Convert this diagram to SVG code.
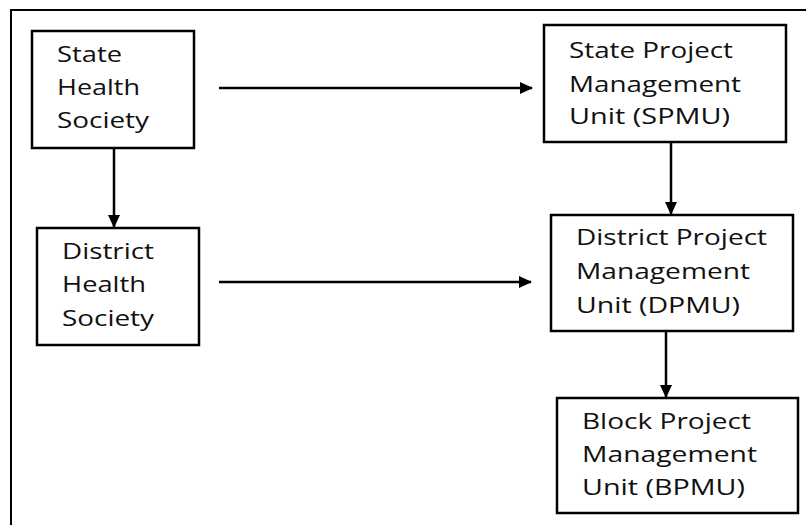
<svg xmlns="http://www.w3.org/2000/svg" width="806" height="525" viewBox="0 0 806 525">
<defs>
<marker id="ah" markerWidth="14" markerHeight="14" refX="12" refY="7" orient="auto" markerUnits="userSpaceOnUse">
<path d="M0,1 L13,7 L0,13 Z" fill="#000"/>
</marker>
<style>
.box{fill:#fff;stroke:#000;stroke-width:2.5}
.t{font-family:"Open Sans","Liberation Sans",sans-serif;font-size:21px;fill:#111}
.c{stroke:#000;stroke-width:2.5;fill:none;marker-end:url(#ah)}
</style>
</defs>
<rect x="0" y="0" width="806" height="525" fill="#fff"/>
<rect x="11" y="10" width="830" height="560" fill="none" stroke="#000" stroke-width="2"/>
<g id="connectors">
<line class="c" x1="219" y1="88" x2="532" y2="88"/>
<line class="c" x1="114" y1="148" x2="114" y2="227"/>
<line class="c" x1="671" y1="142" x2="671" y2="214"/>
<line class="c" x1="219" y1="282" x2="531" y2="282"/>
<line class="c" x1="666" y1="331" x2="666" y2="397"/>
</g>
<g id="shs">
<rect class="box" x="32" y="31" width="162" height="117"/>
<text class="t" x="57" y="62" textLength="65" lengthAdjust="spacingAndGlyphs">State</text>
<text class="t" x="57" y="95" textLength="83" lengthAdjust="spacingAndGlyphs">Health</text>
<text class="t" x="57" y="128" textLength="92" lengthAdjust="spacingAndGlyphs">Society</text>
</g>
<g id="spmu">
<rect class="box" x="544" y="25" width="242" height="117"/>
<text class="t" x="569" y="58" textLength="164" lengthAdjust="spacingAndGlyphs">State Project</text>
<text class="t" x="569" y="92" textLength="172" lengthAdjust="spacingAndGlyphs">Management</text>
<text class="t" x="569" y="124" textLength="161" lengthAdjust="spacingAndGlyphs">Unit (SPMU)</text>
</g>
<g id="dhs">
<rect class="box" x="37" y="228" width="162" height="117"/>
<text class="t" x="62" y="259" textLength="92" lengthAdjust="spacingAndGlyphs">District</text>
<text class="t" x="62" y="292" textLength="84" lengthAdjust="spacingAndGlyphs">Health</text>
<text class="t" x="62" y="326" textLength="92" lengthAdjust="spacingAndGlyphs">Society</text>
</g>
<g id="dpmu">
<rect class="box" x="551" y="215" width="242" height="116"/>
<text class="t" x="576" y="245" textLength="191" lengthAdjust="spacingAndGlyphs">District Project</text>
<text class="t" x="576" y="279" textLength="174" lengthAdjust="spacingAndGlyphs">Management</text>
<text class="t" x="576" y="313" textLength="164" lengthAdjust="spacingAndGlyphs">Unit (DPMU)</text>
</g>
<g id="bpmu">
<rect class="box" x="557" y="398" width="241" height="115"/>
<text class="t" x="582" y="429" textLength="169" lengthAdjust="spacingAndGlyphs">Block Project</text>
<text class="t" x="582" y="462" textLength="175" lengthAdjust="spacingAndGlyphs">Management</text>
<text class="t" x="582" y="495" textLength="163" lengthAdjust="spacingAndGlyphs">Unit (BPMU)</text>
</g>
</svg>
